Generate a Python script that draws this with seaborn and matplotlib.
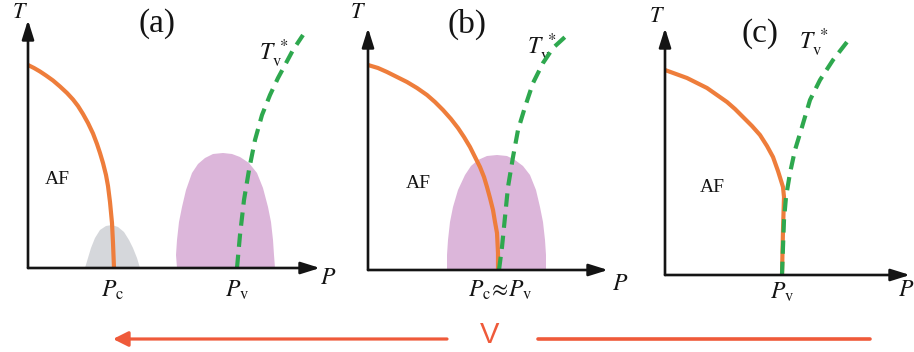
import numpy as np
import pandas as pd
import matplotlib
matplotlib.use("Agg")
import matplotlib.pyplot as plt
import seaborn as sns

sns.set_style("white")
plt.rcParams["font.family"] = ["Liberation Serif", "DejaVu Serif"]
plt.rcParams["mathtext.fontset"] = "stix"

# ---------------- data (P, T in schematic units) ----------------
# panel (a)
a_af_P = [0, 6, 12, 18, 25, 32, 39, 45, 50, 55, 60, 65, 69, 72, 75, 78, 80, 82, 84, 85, 86]
a_af_T = [203, 200, 196.5, 192.5, 187.5, 181.5, 175, 168.5, 162, 154, 145, 134.5, 124, 115, 105, 93, 82, 66, 45, 25, 0]
a_tv_P = [209, 212, 216, 221, 227, 234, 242, 250, 257, 265, 275]
a_tv_T = [0, 33, 68, 98, 128, 153, 173, 190, 203, 218, 233]
a_gray_P = [57, 60, 63, 67, 72, 78, 84, 90, 96, 101, 105, 109, 112]
a_gray_T = [0, 10, 20, 30, 38, 42, 43, 41, 36, 28, 20, 10, 0]
a_pink_P = [149, 148, 149, 151, 154, 158, 164, 170, 177, 185, 195, 204, 212, 221, 229, 235, 240, 243, 245, 246, 247]
a_pink_T = [0, 13, 28, 46, 61, 78, 95, 104, 110, 114, 115, 114, 111, 105, 95, 80, 61, 46, 28, 13, 0]

# panel (b)
b_af_P = [0, 10, 19, 29, 39, 49, 59, 67, 75, 83, 90, 96, 102, 107, 112, 116, 119, 122, 125, 127, 129, 130, 130]
b_af_T = [205, 202, 198, 193, 188, 182, 175, 168, 160, 151, 142, 133, 123, 113, 103, 93, 83, 72, 60, 48, 37, 17, 0]
b_tv_P = [131, 134, 137, 140, 145, 150, 157, 165, 175, 185, 197]
b_tv_T = [0, 23, 53, 83, 113, 140, 163, 187, 207, 222, 233]
b_pink_P = [79, 79, 80, 82, 85, 90, 97, 103, 110, 119, 129, 139, 147, 155, 162, 168, 172, 175, 177, 178, 178]
b_pink_T = [0, 15, 30, 48, 63, 80, 95, 104, 110, 114, 115, 114, 110, 104, 95, 80, 63, 48, 30, 15, 0]

# panel (c)
c_af_P = [0, 11, 22, 32, 42, 52, 62, 70, 78, 87, 95, 102, 108, 113, 118, 119, 118, 117]
c_af_T = [205, 201, 197, 192, 187, 180, 173, 166, 158, 149, 140, 129, 118, 104, 88, 78, 45, 0]
c_tv_P = [117, 118, 119, 121, 125, 130, 137, 145, 155, 168, 182]
c_tv_T = [0, 28, 55, 78, 102, 125, 148, 175, 195, 215, 233]

ORANGE = "#ee7d3b"
GREEN = "#2ea84e"
PINK = "#dcb6da"
GRAY = "#d5d7db"
INK = "#141414"
RED = "#ef5a3a"

W, H = 914, 352
fig = plt.figure(figsize=(W / 100, H / 100), dpi=100)


def make_ax(px0, px1, ox, oy):
    ax = fig.add_axes([px0 / W, 0, (px1 - px0) / W, 1])
    ax.set_xlim(px0 - ox, px1 - ox)
    ax.set_ylim(oy - H, oy)
    ax.set_axis_off()
    return ax


def axes_arrows(ax, ptip, ttip):
    style = "-|>,head_length=1.15,head_width=0.36"
    for xy in [(0, ttip), (ptip, 0)]:
        ax.annotate("", xy=xy, xytext=(0, 0),
                    arrowprops=dict(arrowstyle=style, lw=1.9, color=INK,
                                    shrinkA=0, shrinkB=0, mutation_scale=10),
                    zorder=5)


def curve(ax, P, T, color, dashed=False):
    df = pd.DataFrame({"P": P, "T": T})
    kw = dict(linestyle=(0, (3.2, 1.9))) if dashed else {}
    sns.lineplot(data=df, x="P", y="T", ax=ax, sort=False, color=color,
                 linewidth=3.0, estimator=None, zorder=4,
                 solid_capstyle="butt", solid_joinstyle="round", **kw)


def label(ax, x, y, s, size=14, **kw):
    ax.text(x, y, s, fontsize=size, color=INK, ha="center", va="center", **kw)


# ---------------- panel (a) ----------------
axa = make_ax(0, 330, 28, 268)
axa.fill(a_gray_P, a_gray_T, color=GRAY, lw=0, zorder=1)
axa.fill(a_pink_P, a_pink_T, color=PINK, lw=0, zorder=1)
curve(axa, a_af_P, a_af_T, ORANGE)
curve(axa, a_tv_P, a_tv_T, GREEN, dashed=True)
axes_arrows(axa, 292, 248)
label(axa, 129, 244, "(a)", size=24)
label(axa, 29, 88, "AF", size=14)
label(axa, 246, 214, r"$T_{\rm v}^{\,*}$", size=17)
label(axa, 85, -22, r"$P_{\rm c}$", size=17)
label(axa, 209, -22, r"$P_{\rm v}$", size=17)
label(axa, -8, 254, r"$T$", size=16)
label(axa, 300, -10, r"$P$", size=17)

# ---------------- panel (b) ----------------
axb = make_ax(330, 630, 368, 270)
axb.fill(b_pink_P, b_pink_T, color=PINK, lw=0, zorder=1)
curve(axb, b_af_P, b_af_T, ORANGE)
curve(axb, b_tv_P, b_tv_T, GREEN, dashed=True)
axes_arrows(axb, 240, 242)
label(axb, 99, 246, "(b)", size=24)
label(axb, 50, 87, "AF", size=14)
label(axb, 174, 222, r"$T_{\rm v}^{\,*}$", size=17)
label(axb, 132, -20, r"$P_{\rm c}\!\approx\!P_{\rm v}$", size=17)
label(axb, -10, 256, r"$T$", size=16)
label(axb, 252, -15, r"$P$", size=17)

# ---------------- panel (c) ----------------
axc = make_ax(630, 914, 665, 275)
curve(axc, c_af_P, c_af_T, ORANGE)
curve(axc, c_tv_P, c_tv_T, GREEN, dashed=True)
axes_arrows(axc, 245, 247)
label(axc, 95, 241, "(c)", size=24)
label(axc, 47, 87, "AF", size=14)
label(axc, 149, 232, r"$T_{\rm v}^{\,*}$", size=17)
label(axc, 117, -17, r"$P_{\rm v}$", size=17)
label(axc, -8, 258, r"$T$", size=16)
label(axc, 241, -15, r"$P$", size=17)

# ---------------- bottom arrow ----------------
fig.add_artist(matplotlib.patches.FancyArrowPatch(
    (447 / W, 13 / H), (113 / W, 13 / H), transform=fig.transFigure,
    arrowstyle="-|>,head_length=0.9,head_width=0.45", mutation_scale=10,
    lw=2.3, color=RED, shrinkA=0, shrinkB=0))
fig.add_artist(matplotlib.lines.Line2D([538 / W, 870 / W], [13 / H, 13 / H],
                                       transform=fig.transFigure, lw=2.6, color=RED))
fig.text(490 / W, 17 / H, "V", color=RED, fontsize=21, ha="center", va="center",
         family=["Liberation Sans", "DejaVu Sans"])

fig.savefig("out.png", dpi=100)
